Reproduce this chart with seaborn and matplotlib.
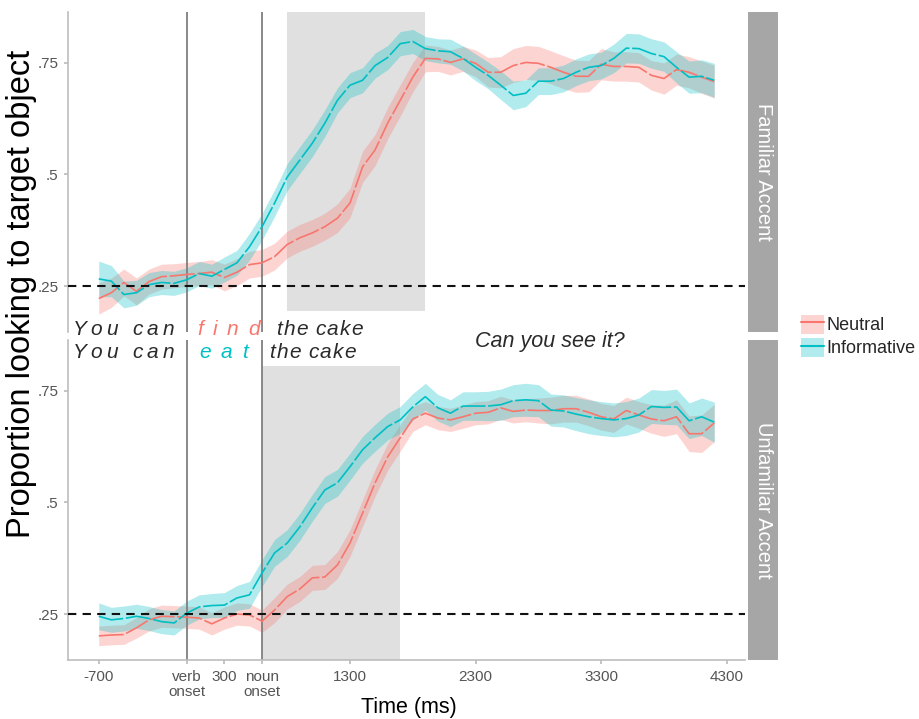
import numpy as np
import pandas as pd
import seaborn as sns
import matplotlib.pyplot as plt
from matplotlib.patches import Patch
from matplotlib.lines import Line2D
from matplotlib.transforms import offset_copy

# ---------------- data ----------------
time_ms = list(range(-700, 4300, 100))

fam_neutral = [0.222, 0.235, 0.258, 0.238, 0.260, 0.271, 0.273, 0.276, 0.278, 0.281,
               0.269, 0.281, 0.298, 0.302, 0.316, 0.343, 0.358, 0.369, 0.383, 0.402,
               0.436, 0.517, 0.555, 0.615, 0.666, 0.718, 0.760, 0.759, 0.751, 0.759,
               0.749, 0.729, 0.729, 0.744, 0.751, 0.749, 0.740, 0.729, 0.720, 0.720,
               0.747, 0.742, 0.742, 0.740, 0.722, 0.715, 0.735, 0.729, 0.718, 0.708]
fam_informative = [0.266, 0.261, 0.231, 0.235, 0.253, 0.258, 0.256, 0.264, 0.278, 0.272,
                   0.287, 0.302, 0.338, 0.383, 0.436, 0.494, 0.532, 0.570, 0.615, 0.666,
                   0.700, 0.711, 0.744, 0.762, 0.793, 0.798, 0.782, 0.777, 0.775, 0.760,
                   0.740, 0.722, 0.700, 0.677, 0.682, 0.709, 0.709, 0.715, 0.729, 0.740,
                   0.744, 0.760, 0.783, 0.782, 0.771, 0.764, 0.740, 0.718, 0.720, 0.711]
unf_neutral = [0.201, 0.203, 0.204, 0.219, 0.237, 0.245, 0.244, 0.243, 0.241, 0.228,
               0.241, 0.250, 0.248, 0.234, 0.259, 0.289, 0.306, 0.331, 0.333, 0.360,
               0.409, 0.476, 0.544, 0.602, 0.645, 0.687, 0.700, 0.689, 0.685, 0.692,
               0.700, 0.702, 0.712, 0.704, 0.707, 0.706, 0.706, 0.710, 0.710, 0.702,
               0.692, 0.687, 0.706, 0.696, 0.687, 0.683, 0.692, 0.654, 0.654, 0.678]
unf_informative = [0.245, 0.237, 0.240, 0.245, 0.240, 0.233, 0.230, 0.252, 0.266, 0.269,
                   0.270, 0.286, 0.293, 0.342, 0.387, 0.409, 0.445, 0.488, 0.528, 0.544,
                   0.580, 0.618, 0.645, 0.670, 0.685, 0.714, 0.737, 0.712, 0.700, 0.716,
                   0.716, 0.716, 0.719, 0.728, 0.730, 0.728, 0.707, 0.705, 0.698, 0.692,
                   0.688, 0.685, 0.688, 0.696, 0.715, 0.713, 0.714, 0.683, 0.692, 0.680]

fam_neutral_se = [0.035, 0.033, 0.030, 0.030, 0.028, 0.028, 0.027, 0.027, 0.027, 0.028,
                  0.030, 0.030, 0.030, 0.030, 0.030, 0.030, 0.030, 0.030, 0.030, 0.032,
                  0.033, 0.035, 0.035, 0.035, 0.035, 0.033, 0.030, 0.028, 0.028, 0.028,
                  0.030, 0.033, 0.035, 0.038, 0.038, 0.038, 0.037, 0.037, 0.036, 0.035,
                  0.035, 0.033, 0.033, 0.033, 0.033, 0.035, 0.035, 0.035, 0.036, 0.037]
fam_informative_se = [0.040, 0.035, 0.030, 0.028, 0.027, 0.027, 0.027, 0.027, 0.027, 0.027,
                      0.028, 0.028, 0.030, 0.030, 0.030, 0.030, 0.030, 0.030, 0.030, 0.028,
                      0.028, 0.028, 0.028, 0.027, 0.027, 0.027, 0.027, 0.027, 0.028, 0.028,
                      0.030, 0.030, 0.032, 0.032, 0.030, 0.030, 0.030, 0.030, 0.030, 0.030,
                      0.030, 0.032, 0.033, 0.033, 0.033, 0.033, 0.035, 0.036, 0.037, 0.038]
unf_neutral_se = [0.022, 0.022, 0.022, 0.023, 0.025, 0.025, 0.025, 0.025, 0.025, 0.025,
                  0.025, 0.025, 0.025, 0.025, 0.028, 0.028, 0.028, 0.028, 0.028, 0.030,
                  0.030, 0.030, 0.030, 0.030, 0.030, 0.028, 0.026, 0.026, 0.026, 0.026,
                  0.026, 0.026, 0.026, 0.026, 0.026, 0.028, 0.030, 0.030, 0.030, 0.030,
                  0.030, 0.030, 0.030, 0.030, 0.032, 0.035, 0.038, 0.040, 0.042, 0.042]
unf_informative_se = [0.030, 0.028, 0.028, 0.027, 0.027, 0.027, 0.027, 0.027, 0.027, 0.027,
                      0.028, 0.028, 0.030, 0.030, 0.030, 0.030, 0.030, 0.030, 0.030, 0.030,
                      0.030, 0.030, 0.030, 0.030, 0.030, 0.030, 0.030, 0.030, 0.030, 0.032,
                      0.032, 0.033, 0.035, 0.036, 0.037, 0.036, 0.036, 0.036, 0.037, 0.038,
                      0.038, 0.038, 0.038, 0.038, 0.038, 0.038, 0.040, 0.040, 0.042, 0.045]

conditions = ["Neutral", "Informative"]
panels = ["Familiar Accent", "Unfamiliar Accent"]
colors = {"Neutral": "#F8766D", "Informative": "#00BFC4"}

xtick_pos = [-700, 0, 300, 600, 1300, 2300, 3300, 4300]
xtick_labels = ["-700", "verb\nonset", "300", "noun\nonset", "1300", "2300", "3300", "4300"]
ytick_pos = [0.25, 0.5, 0.75]
ytick_labels = [".25", ".5", ".75"]

verb_onset = 0
noun_onset = 600
chance = 0.25
window_fam = (800, 1900, 0.193)    # x0, x1, y-bottom (to top)
window_unf = (600, 1700, 0.805)    # x0, x1, y-top (from bottom)

# -------------- tidy frame --------------
rows = []
for panel, neu, inf, neu_se, inf_se in [
        ("Familiar Accent", fam_neutral, fam_informative, fam_neutral_se, fam_informative_se),
        ("Unfamiliar Accent", unf_neutral, unf_informative, unf_neutral_se, unf_informative_se)]:
    for cond, vals, ses in [("Neutral", neu, neu_se), ("Informative", inf, inf_se)]:
        for t, v, s in zip(time_ms, vals, ses):
            rows.append(dict(panel=panel, cond=cond, time=t, prop=v, se=s))
df = pd.DataFrame(rows)

# -------------- figure --------------
sns.set_theme(style="white")
plt.rcParams["font.family"] = ["Liberation Sans", "DejaVu Sans"]

W, H = 919, 719
fig = plt.figure(figsize=(W / 100, H / 100), dpi=100)
renderer = fig.canvas.get_renderer()

def fx(px):
    return px / W

def fy(py):
    return 1 - py / H

ax_left, ax_right = 68, 745
panel_px = [(12, 332), (340, 660)]
axes = []
for (top, bot) in panel_px:
    ax = fig.add_axes([fx(ax_left), fy(bot), fx(ax_right - ax_left), (bot - top) / H])
    axes.append(ax)

xlim = (-945, 4445)
ylim = (0.147, 0.864)
axis_grey = "#BDBDBD"
tick_col = "#555555"
narrow = ["Liberation Sans Narrow", "Liberation Sans", "DejaVu Sans"]

for i, (ax, panel) in enumerate(zip(axes, panels)):
    sub = df[df.panel == panel]
    ax.set_xlim(*xlim)
    ax.set_ylim(*ylim)
    if i == 0:
        x0, x1, yb = window_fam
        ax.fill_between([x0, x1], [yb, yb], [ylim[1], ylim[1]], color="#E0E0E0", lw=0, zorder=0)
    else:
        x0, x1, yt = window_unf
        ax.fill_between([x0, x1], [ylim[0], ylim[0]], [yt, yt], color="#E0E0E0", lw=0, zorder=0)
    for cond in conditions:
        s = sub[sub.cond == cond]
        ax.fill_between(s.time, s.prop - s.se, s.prop + s.se, color=colors[cond],
                        alpha=0.3, lw=0, zorder=1)
    sns.lineplot(data=sub, x="time", y="prop", hue="cond", hue_order=conditions,
                 palette=colors, ax=ax, legend=False, lw=1.2, zorder=3,
                 linestyle=(0, (15, 1.6)), estimator=None)
    for xv in (verb_onset, noun_onset):
        ax.axvline(xv, color="#7F7F7F", lw=1.3, zorder=2)
    ax.axhline(chance, color="#111111", lw=1.5, ls=(0, (4, 3)), zorder=4)

    for sp in ["top", "right"]:
        ax.spines[sp].set_visible(False)
    ax.spines["left"].set_color(axis_grey)
    ax.spines["left"].set_linewidth(1.2)
    ax.set_yticks(ytick_pos)
    ax.set_yticklabels(ytick_labels, color=tick_col, fontsize=11, family=narrow)
    ax.tick_params(axis="y", length=3, color=axis_grey, pad=4, left=True)
    ax.set_xlabel("")
    ax.set_ylabel("")
    ax.patch.set_alpha(0)
    if i == 0:
        ax.spines["bottom"].set_visible(False)
        ax.set_xticks([])
    else:
        ax.spines["bottom"].set_color(axis_grey)
        ax.spines["bottom"].set_linewidth(1.2)
        ax.set_xticks(xtick_pos)
        ax.set_xticklabels(xtick_labels, color=tick_col, fontsize=11, linespacing=1.15,
                           family=narrow)
        ax.tick_params(axis="x", length=3, color=axis_grey, pad=4, bottom=True)

# facet strips
for (top, bot), lab in zip(panel_px, panels):
    sax = fig.add_axes([fx(748), fy(bot), fx(30), (bot - top) / H])
    sax.set_facecolor("#A6A6A6")
    for sp in sax.spines.values():
        sp.set_visible(False)
    sax.set_xticks([])
    sax.set_yticks([])
    sax.text(0.5, 0.5, lab, rotation=-90, ha="center", va="center", color="white",
             fontsize=14.5, transform=sax.transAxes)


def tracked_text(ax, x, y, s, track_px, space_px, **kw):
    """Write s character by character with extra letter spacing (in pixels)."""
    off = 0.0
    for ch in s:
        if ch == " ":
            off += space_px
            continue
        tr = offset_copy(ax.transData, fig=fig, x=off, y=0, units="dots")
        t = ax.text(x, y, ch, transform=tr, ha="left", va="baseline", clip_on=False, **kw)
        off += t.get_window_extent(renderer).width + track_px


# sentence annotations
ax_t, ax_b = axes
txt_col = "#2A2A2A"
sfont = 15
common = dict(style="italic", fontsize=sfont)
tracked_text(ax_t, -909, 0.140, "You can", 4.2, 10, color=txt_col, **common)
tracked_text(ax_t, 85, 0.140, "find", 9.5, 6, color=colors["Neutral"], **common)
tracked_text(ax_t, 714, 0.140, "the cake", 1.2, 6, color=txt_col, **common)
tracked_text(ax_b, -909, 0.824, "You can", 4.2, 10, color=txt_col, **common)
tracked_text(ax_b, 101, 0.824, "eat", 9.5, 6, color=colors["Informative"], **common)
tracked_text(ax_b, 658, 0.824, "the cake", 1.2, 6, color=txt_col, **common)
ax_b.text(2893, 0.849, "Can you see it?", style="italic", fontsize=15.5, color=txt_col,
          ha="center", va="baseline", clip_on=False)

# axis titles
fig.text(fx(22), fy(294), "Proportion looking to target object", rotation=90,
         ha="center", va="center", fontsize=23.5, color="black")
fig.text(fx(409), fy(708), "Time (ms)", ha="center", va="center", fontsize=15.5,
         color="black", family=narrow)

# legend
handles = [(Patch(facecolor=colors[c], alpha=0.3, lw=0), Line2D([], [], color=colors[c], lw=1.5))
           for c in conditions]
fig.legend(handles, conditions, loc="center left", bbox_to_anchor=(fx(801), fy(336)),
           frameon=False, fontsize=13, handlelength=1.3, handleheight=1.25,
           handletextpad=0.12, labelspacing=0.2, borderaxespad=0, borderpad=0)

fig.savefig("out.png", dpi=100)
